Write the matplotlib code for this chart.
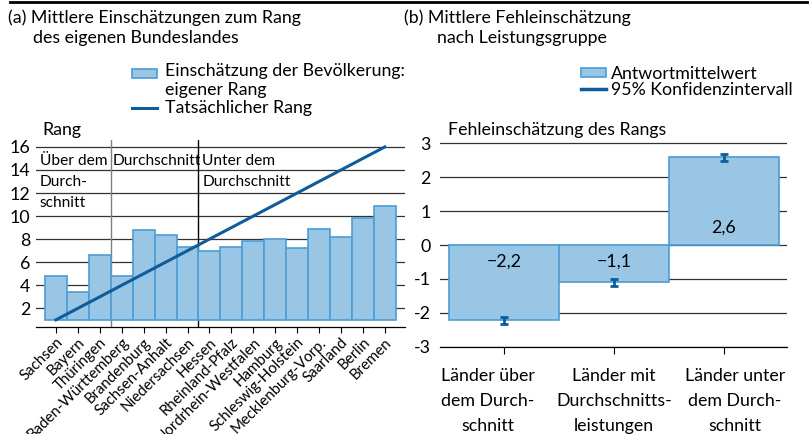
import numpy as np
import matplotlib
matplotlib.use('Agg')
import matplotlib.pyplot as plt
from matplotlib.lines import Line2D
from matplotlib.patches import Rectangle
from matplotlib.legend_handler import HandlerPatch
from matplotlib.transforms import ScaledTranslation

plt.rcParams['font.family'] = ['Lato', 'DejaVu Sans']
plt.rcParams['font.size'] = 12.8

# ---- data -------------------------------------------------------------
laender = ['Sachsen', 'Bayern', 'Thüringen', 'Baden-Württemberg', 'Brandenburg',
           'Sachsen-Anhalt', 'Niedersachsen', 'Hessen', 'Rheinland-Pfalz',
           'Nordrhein-Westfalen', 'Hamburg', 'Schleswig-Holstein',
           'Mecklenburg-Vorp.', 'Saarland', 'Berlin', 'Bremen']
einschaetzung = [4.8, 3.4, 6.6, 4.8, 8.8, 8.35, 7.35, 7.0, 7.35, 7.8, 8.05,
                 7.2, 8.9, 8.15, 9.8, 10.9]
tatsaechlich = [1, 2, 3, 4, 5, 6, 7, 8, 9, 10, 11, 12, 13, 14, 15, 16]
gruppen_grenzen = [2.5, 6.5]
gruppen_text = ['Über dem\nDurch-\nschnitt', 'Durchschnitt', 'Unter dem\nDurchschnitt']

gruppen = ['Länder über\ndem Durch-\nschnitt', 'Länder mit\nDurchschnitts-\nleistungen',
           'Länder unter\ndem Durch-\nschnitt']
fehler_mittel = [-2.2, -1.1, 2.6]
ki_unten = [-2.33, -1.22, 2.48]
ki_oben = [-2.11, -1.00, 2.69]
fehler_labels = ['\u22122,2', '\u22121,1', '2,6']

# ---- style ------------------------------------------------------------
FILL = '#9ac6e5'
EDGE = '#4d9dd6'
DARK = '#0f5c99'
GRID = '#333333'

fig = plt.figure(figsize=(8.09, 4.34), dpi=100)
W, H = 809, 434

def fx(px):
    return px / W

def fy(py):
    return 1 - py / H

fig.add_artist(Line2D([fx(10), 1], [fy(1.5), fy(1.5)], color='black', lw=2))

fig.text(fx(8), fy(18), '(a) Mittlere Einschätzungen zum Rang', va='center')
fig.text(fx(33), fy(38), 'des eigenen Bundeslandes', va='center')
fig.text(fx(404), fy(18), '(b) Mittlere Fehleinschätzung', va='center')
fig.text(fx(437), fy(38), 'nach Leistungsgruppe', va='center')
fig.text(fx(42), fy(130), 'Rang', va='center')
fig.text(fx(448), fy(130), 'Fehleinschätzung des Rangs', va='center')


# legend patch sitting next to the first line of a two-line label
def patch_top(legend, orig_handle, xdescent, ydescent, width, height, fontsize):
    return Rectangle((-xdescent, -ydescent + 0.38 * fontsize), width, height)


# ---- (a) -------------------------------------------------------------
ax1 = fig.add_axes([fx(36), fy(327), fx(369), 187 / H])
x = np.arange(len(laender))
bars1 = ax1.bar(x, np.array(einschaetzung) - 1, bottom=1, width=1.0,
                color=FILL, edgecolor=EDGE, linewidth=1.2, zorder=2)
line1, = ax1.plot(x, tatsaechlich, color=DARK, lw=2.2, zorder=3)
ax1.axvline(gruppen_grenzen[0], color='#808080', lw=1, zorder=1)
ax1.axvline(gruppen_grenzen[1], color='black', lw=1, zorder=1)

ax1.set_xlim(-0.91, 15.92)
ax1.set_ylim(0.38, 16.6)
ax1.set_yticks(range(2, 17, 2))
ax1.yaxis.grid(True, color=GRID, lw=0.9, zorder=0)
ax1.set_axisbelow(True)
ax1.tick_params(axis='y', length=0, pad=4)
ax1.set_xticks(x)
ax1.set_xticklabels(laender, rotation=45, ha='right', rotation_mode='anchor',
                    fontsize=10.8)
ax1.tick_params(axis='x', length=4, width=0.8, pad=2)
for s in ['left', 'right', 'top']:
    ax1.spines[s].set_visible(False)
ax1.spines['bottom'].set_linewidth(0.9)

text_x = [-0.75, 2.6, 6.67]
for tx, t in zip(text_x, gruppen_text):
    ax1.text(tx, 15.35, t, va='top', ha='left', linespacing=1.62,
             fontsize=11.2, zorder=4)

bar_handle = bars1.patches[0]
ax1.legend(handles=[bar_handle, line1],
           labels=['Einschätzung der Bevölkerung:\neigener Rang', 'Tatsächlicher Rang'],
           loc='upper left',
           bbox_to_anchor=(fx(132), fy(63)), bbox_transform=fig.transFigure,
           frameon=False, borderpad=0, borderaxespad=0, handlelength=1.4,
           handleheight=0.45, handletextpad=0.45, labelspacing=0.15,
           handler_map={bar_handle: HandlerPatch(patch_func=patch_top)})

# ---- (b) -------------------------------------------------------------
ax2 = fig.add_axes([fx(440), fy(346.7), fx(346.7), 204.4 / H])
xg = np.arange(len(gruppen))
bars2 = ax2.bar(xg, fehler_mittel, width=1.0, color=FILL, edgecolor=EDGE,
                linewidth=1.2, zorder=2)
mitte = (np.array(ki_unten) + np.array(ki_oben)) / 2
err = (np.array(ki_oben) - np.array(ki_unten)) / 2
ax2.errorbar(xg, mitte, yerr=err, fmt='none', ecolor=DARK, elinewidth=2,
             capsize=2.8, capthick=2, zorder=3)
for xi, v, lab in zip(xg, fehler_mittel, fehler_labels):
    ax2.text(xi, np.sign(v) * 0.5, lab, ha='center', va='center', zorder=4)

ax2.set_xlim(-0.58, 2.57)
ax2.set_ylim(-3, 3.03)
ax2.set_yticks(range(-3, 4))
ax2.set_yticklabels([str(v) for v in range(-3, 4)])
ax2.yaxis.grid(True, color=GRID, lw=0.9, zorder=0)
ax2.set_axisbelow(True)
ax2.tick_params(axis='y', length=0, pad=6.5)
ax2.set_xticks(xg)
ax2.set_xticklabels(gruppen, linespacing=1.7)
ax2.tick_params(axis='x', length=5, width=0.8, pad=10)
for s in ['left', 'right', 'top']:
    ax2.spines[s].set_visible(False)
ax2.spines['bottom'].set_linewidth(0.9)
shifts = [-16, 0, 11]
for lab, dx in zip(ax2.get_xticklabels(), shifts):
    lab.set_transform(lab.get_transform() + ScaledTranslation(dx / 100, 0, fig.dpi_scale_trans))

ki_handle = Line2D([], [], color=DARK, lw=2.5)
ax2.legend(handles=[bars2.patches[0], ki_handle], labels=['Antwortmittelwert', '95% Konfidenzintervall'],
           loc='upper left', bbox_to_anchor=(fx(581), fy(66)), bbox_transform=fig.transFigure,
           frameon=False, borderpad=0, borderaxespad=0, handlelength=1.4,
           handleheight=0.45, handletextpad=0.28, labelspacing=0.0)

fig.savefig('out.png', dpi=100)
